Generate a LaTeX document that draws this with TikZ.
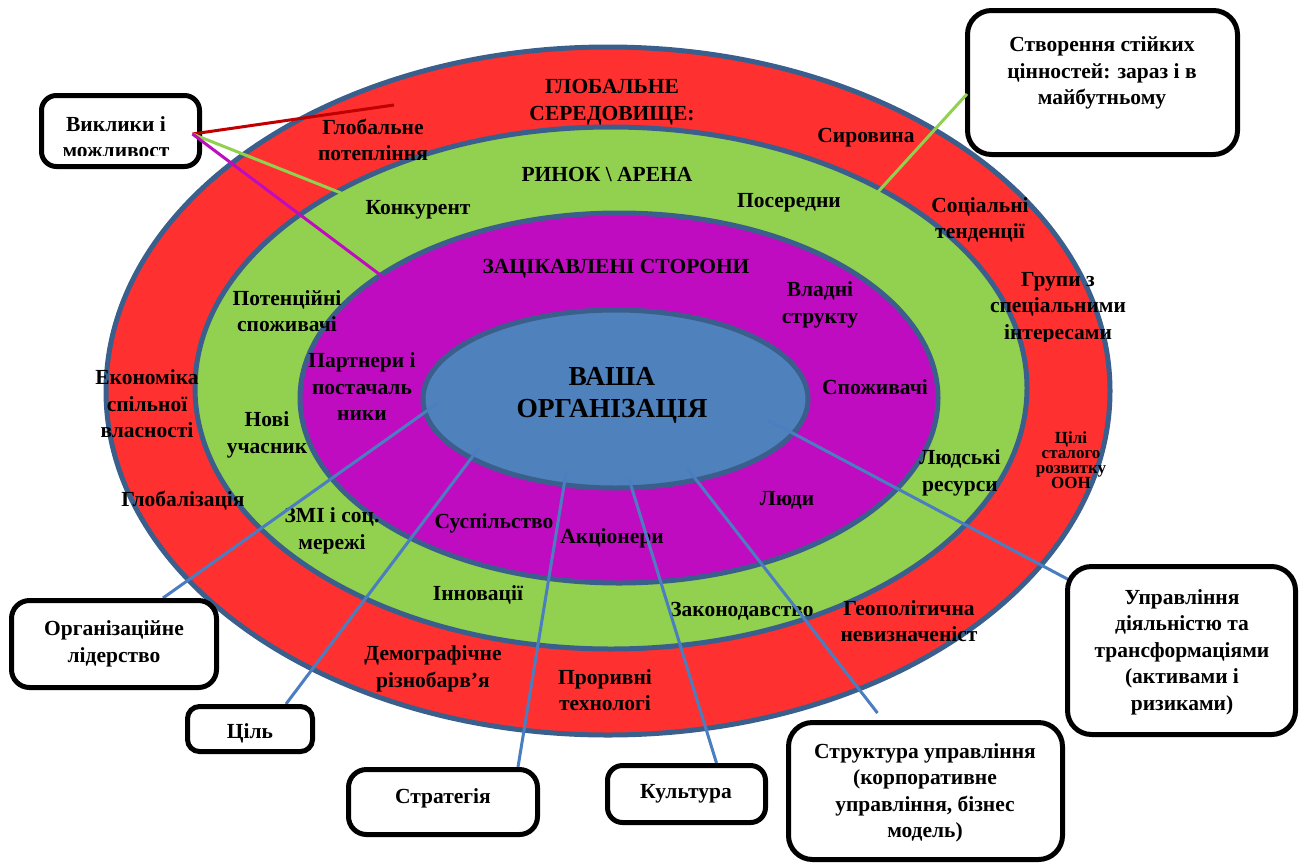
\documentclass[tikz,border=0pt]{standalone}
\usepackage{fontspec}
\setmainfont{Liberation Serif}
\usetikzlibrary{calc}
\pgfdeclarelayer{back}
\pgfdeclarelayer{mid}
\pgfsetlayers{back,mid,main}
\definecolor{ringred}{HTML}{FF3030}
\definecolor{ringgreen}{HTML}{92D050}
\definecolor{ringpurple}{HTML}{C00CC0}
\definecolor{coreblue}{HTML}{4F81BD}
\definecolor{rimblue}{HTML}{3B5F8C}
\definecolor{lineblue}{HTML}{4A7EC0}
\definecolor{darkred}{HTML}{C00000}
\begin{document}
\begin{tikzpicture}[x=1pt,y=-1pt,
  ring/.style={draw=rimblue,line width=5pt},
  lab/.style={font=\bfseries\fontsize{21.5}{26.5}\selectfont,align=center,inner sep=0pt,text=black},
  smalllab/.style={font=\bfseries\fontsize{17}{15}\selectfont,align=center,inner sep=0pt,text=black},
  biglab/.style={font=\bfseries\fontsize{27.5}{32}\selectfont,align=center,inner sep=0pt,text=black},
  box/.style={draw=black,fill=white,line width=5pt,rounded corners=18pt,inner sep=0pt},
  link/.style={draw=lineblue,line width=3pt},
]
\useasboundingbox (0,0) rectangle (1301,863);

\begin{pgfonlayer}{back}
% rings
\draw[ring,fill=ringred] (608,391) ellipse [x radius=502pt, y radius=344pt];
\draw[ring,fill=ringgreen] (611,388) ellipse [x radius=416pt, y radius=261pt];
\draw[ring,fill=ringpurple] (619,398) ellipse [x radius=319pt, y radius=185pt];
\draw[ring,fill=coreblue] (615.5,399) ellipse [x radius=192.5pt, y radius=89pt];

% labels in the rings
\node[lab] (globenv) at (612,102) {ГЛОБАЛЬНЕ\\СЕРЕДОВИЩЕ:};
\node[lab] (warming) at (373,140) {Глобальне\\потепління};
\node[lab] (raw) at (866,138) {Сировина};
\node[lab] (market) at (607,174) {РИНОК \textbackslash{} АРЕНА};
\node[lab] (compet) at (418,210) {Конкурент};
\node[lab] (interm) at (789,203) {Посередни};
\node[lab] (social) at (980,220) {Соціальні\\тенденції};
\begin{scope}
  \clip (960,260) rectangle (1160,341);
  \node[lab] (groups) at (1058,308) {Групи з\\спеціальними\\інтересами};
\end{scope}
\node[lab] (stake) at (616,269) {ЗАЦІКАВЛЕНІ СТОРОНИ};
\node[lab] (potcons) at (287,311) {Потенційні\\споживачі};
\node[lab] (power) at (820,305) {Владні\\структу};
\node[lab] (partners) at (362,387) {Партнери і\\постачаль\\ники};
\node[lab] (consum) at (875,387) {Споживачі};
\node[lab] (shareco) at (147,404) {Економіка\\спільної\\власності};
\node[lab] (newcom) at (267,435) {Нові\\учасник};
\node[smalllab] (sdg) at (1071,460) {Цілі\\сталого\\розвитку\\ООН};
\node[lab] (hr) at (960,473) {Людські\\ресурси};
\node[lab] (globaliz) at (183,501) {Глобалізація};
\node[lab] (people) at (787,500) {Люди};
\node[lab] (media) at (332,531) {ЗМІ і соц.\\мережі};
\node[lab] (society) at (494,523) {Суспільство};
\node[lab] (sharehold) at (612,538) {Акціонери};
\node[lab] (innov) at (478,595) {Інновації};
\node[lab] (law) at (742,611) {Законодавство};
\node[lab] (geopol) at (909,621) {Геополітична\\невизначеніст};
\node[lab] (demog) at (433,669) {Демографічне\\різнобарв’я};
\node[lab] (breakth) at (605,690) {Проривні\\технологі};
\node[biglab] (org) at (612,395) {ВАША\\ОРГАНІЗАЦІЯ};
\end{pgfonlayer}

% inner ends of the connectors
\coordinate (sOrg) at (438,403);
\coordinate (sCil) at (479,448);
\coordinate (sStrat) at (566,473);
\coordinate (sKult) at (629,479);
\coordinate (sStruct) at (687,468);
\coordinate (sUpr) at (768,420);
\coordinate (rEnd) at (394,105);
\coordinate (gEnd) at (341,193);
\coordinate (pEnd) at (383,277);
\coordinate (gEnd2) at (877,193);

% boxes
\path
  (120.5,131) node[box,minimum width=158pt,minimum height=71pt,rounded corners=15pt] (vyk) {}
  (1102.5,82.5) node[box,minimum width=270pt,minimum height=144pt,rounded corners=24pt] (stv) {}
  (114,644) node[box,minimum width=205pt,minimum height=87pt] (lead) {}
  (250,729) node[box,minimum width=125pt,minimum height=45pt,rounded corners=12pt] (cil) {}
  (443,802) node[box,minimum width=189pt,minimum height=65pt] (strat) {}
  (686.5,794) node[box,minimum width=158pt,minimum height=57pt,rounded corners=15pt] (kult) {}
  (925.5,791) node[box,minimum width=274pt,minimum height=137pt,rounded corners=24pt] (struct) {}
  (1181.5,650.5) node[box,minimum width=228pt,minimum height=168pt,rounded corners=24pt] (upr) {};

% blue connectors, under the boxes
\begin{pgfonlayer}{mid}
\draw[link] (sOrg) -- ([xshift=49pt]lead.north);
\draw[link] (sCil) -- ([xshift=36pt]cil.north);
\draw[link] (sStrat) -- ([xshift=75pt]strat.north);
\draw[link] (sKult) -- ([xshift=30pt]kult.north);
\draw[link] (sStruct) -- ([xshift=-48pt,yshift=7pt]struct.north);
\draw[link] (sUpr) -- ([xshift=9pt,yshift=68pt]upr.west);
\end{pgfonlayer}

% box texts
\begin{scope}
  \clip (39,93) rectangle (202,155);
  \node[lab] (vyktext) at (116,137) {Виклики і\\можливост};
\end{scope}
\node[lab] (stvtext) at (1102,73) {Створення стійких\\цінностей: зараз і в\\майбутньому};
\node[lab] (leadtext) at (114,644) {Організаційне\\лідерство};
\node[lab] (ciltext) at (250,733) {Ціль};
\node[lab] (strattext) at (443,798) {Стратегія};
\node[lab] (kulttext) at (686,794) {Культура};
\node[lab] (structtext) at (925,793) {Структура управління\\(корпоративне\\управління, бізнес\\модель)};
\node[lab] (uprtext) at (1182,652) {Управління\\діяльністю та\\трансформаціями\\(активами і\\ризиками)};

% lines from the challenge box and the value box
\draw[draw=darkred,line width=3pt] ([xshift=-9.5pt,yshift=-3pt]vyk.east) -- (rEnd);
\draw[draw=ringgreen,line width=3pt] ([xshift=-9.5pt,yshift=-3pt]vyk.east) -- (gEnd);
\draw[draw=ringpurple,line width=3pt] ([xshift=-9.5pt,yshift=-3pt]vyk.east) -- (pEnd);
\draw[draw=ringgreen,line width=3pt] ([xshift=2pt,yshift=-11.5pt]stv.west) -- (gEnd2);
\end{tikzpicture}
\end{document}
